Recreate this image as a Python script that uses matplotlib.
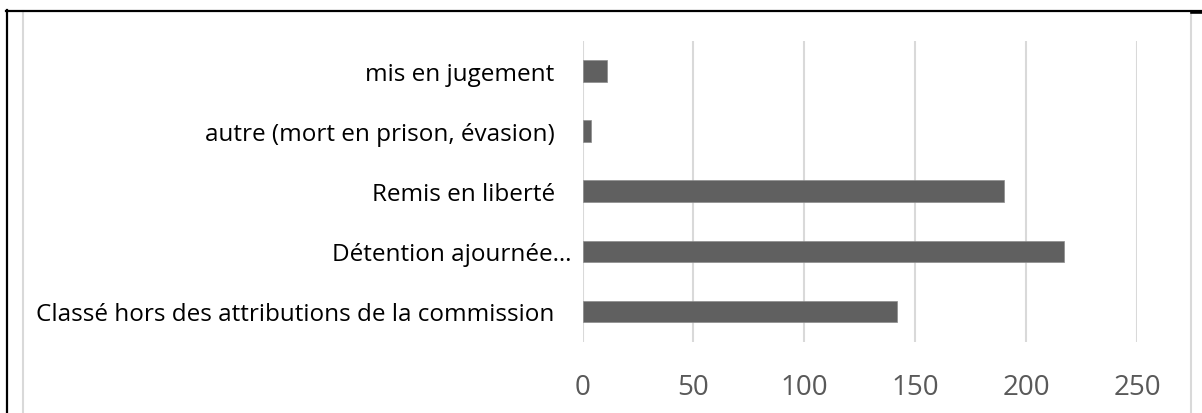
import matplotlib
matplotlib.use("Agg")
import matplotlib.pyplot as plt
from matplotlib.lines import Line2D
from matplotlib.transforms import ScaledTranslation

categories = [
    "Classé hors des attributions de la commission",
    "Détention ajournée…",
    "Remis en liberté",
    "autre (mort en prison, évasion)",
    "mis en jugement",
]
values = [142, 217, 190, 4, 11]
xticks = [0, 50, 100, 150, 200, 250]

W, H = 1202, 414
fig = plt.figure(figsize=(W / 100, H / 100), dpi=100)
fig.patch.set_facecolor("white")

def fx(px):
    return px / W

def fy(py):
    return 1 - py / H

ax = fig.add_axes([fx(582.5), fy(342.5), fx(1137) - fx(582.5), fy(42) - fy(342.5)])
ypos = list(range(len(categories)))
ax.barh(ypos, values, height=0.36, color="#606060", edgecolor="#8c8c8c", linewidth=0.5, zorder=3)
ax.set_xlim(0, 250)
ax.set_ylim(-0.5, len(categories) - 0.5)
ax.set_xticks(xticks)
ax.set_xticklabels([str(t) for t in xticks])
ax.set_yticks(ypos)
ax.set_yticklabels(categories)
ax.grid(axis="x", color="#d9d9d9", linewidth=1.5, zorder=0)
ax.set_axisbelow(True)
for s in ax.spines.values():
    s.set_visible(False)
ax.tick_params(axis="x", length=0, pad=22.5, labelsize=20, labelcolor="#595959")
ax.tick_params(axis="y", length=0, pad=20, labelsize=17.5, labelcolor="#000000")
for lab in ax.get_xticklabels() + ax.get_yticklabels():
    lab.set_fontfamily("Open Sans")
# Détention label sits closer to the axis in the reference
detl = ax.get_yticklabels()[1]
detl.set_transform(detl.get_transform() + ScaledTranslation(17 / 100, 0, fig.dpi_scale_trans))

# Chart area (light gray) and outer page border (black)
fig.add_artist(Line2D([fx(23), fx(23)], [fy(12), 0], color="#d9d9d9", linewidth=1.5))
fig.add_artist(Line2D([fx(1190.5), fx(1190.5)], [fy(12), 0], color="#d9d9d9", linewidth=1.5))
fig.add_artist(Line2D([fx(7), fx(7)], [fy(11), 0], color="black", linewidth=1.6))
fig.add_artist(Line2D([fx(6), 1], [fy(11.5), fy(11.5)], color="black", linewidth=1.6))
fig.add_artist(Line2D([fx(1192), 1], [fy(12.5), fy(12.5)], color="black", linewidth=2.6))

fig.savefig("out.png", dpi=100, facecolor="white")
